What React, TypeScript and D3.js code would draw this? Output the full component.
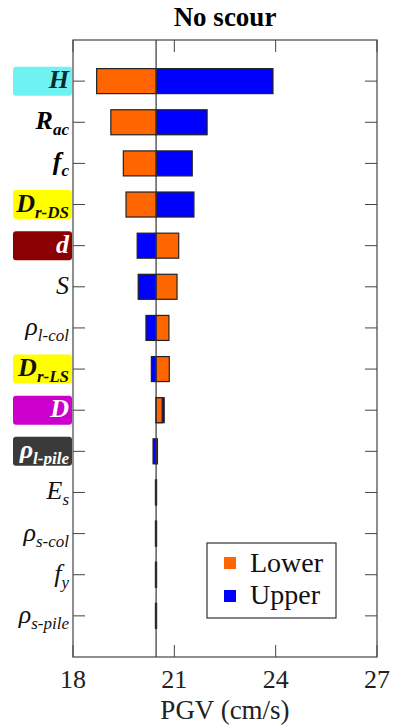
import * as d3 from "d3";

// Tornado chart: PGV sensitivity, "No scour" case
const paramNames = ["H", "R", "f", "D", "d", "S", "ρ", "D", "D", "ρ", "E", "ρ", "f", "ρ"];
const paramSubs = ["", "ac", "c", "r-DS", "", "", "l-col", "r-LS", "", "l-pile", "s", "s-col", "y", "s-pile"];
const paramBold = [true, true, true, true, true, false, false, true, true, true, false, false, false, false];
const badgeFill = ["#6ef2f2", "", "", "#ffff00", "#8b0000", "", "", "#ffff00", "#cc00cc", "#3a3a3a", "", "", "", ""];
const labelFill = ["#0d2a2a", "#000", "#000", "#111", "#fff", "#111", "#111", "#111", "#fff", "#fff", "#111", "#111", "#111", "#111"];

const lowerValues = [18.7, 19.12, 19.49, 19.57, 21.13, 21.08, 20.84, 20.85, 20.64, 20.5, 20.44, 20.44, 20.44, 20.44];
const upperValues = [23.92, 21.97, 21.53, 21.58, 19.9, 19.93, 20.16, 20.32, 20.7, 20.37, 20.47, 20.47, 20.47, 20.47];
const baseValue = 20.46;

const xTicks = [18, 21, 24, 27];
const legendItems = [
  { name: "Lower", color: "#ff6600" },
  { name: "Upper", color: "#0000ff" },
];

const W = 394;
const H = 728;
const margin = { top: 40, right: 17, bottom: 71, left: 73 };
const serif = "Liberation Serif";

export default function App() {
  const x = d3.scaleLinear().domain([18, 27]).range([margin.left, W - margin.right]);
  const rows = d3.range(paramNames.length);
  const y = d3.scalePoint<number>().domain(rows).range([margin.top, H - margin.bottom]).padding(1);
  const barH = 25;
  const x0 = x(baseValue);
  const top = margin.top;
  const bottom = H - margin.bottom;
  const left = margin.left;
  const right = W - margin.right;
  const tickLen = 12;

  const bar = (v: number, i: number, color: string) => (
    <rect
      key={color + i}
      x={Math.min(x(v), x0)}
      y={(y(i) as number) - barH / 2}
      width={Math.max(Math.abs(x(v) - x0), 0.5)}
      height={barH}
      fill={color}
      stroke="#222"
      strokeWidth={1.2}
    />
  );

  return (
    <svg width={W} height={H} style={{ position: "absolute", left: 0, top: 0 }}>
      <style>{`text { font-family: 'Liberation Serif', serif; }`}</style>
      <rect x={0} y={0} width={W} height={H} fill="#fff" />
      {/* title */}
      <text x={(left + right) / 2} y={26} textAnchor="middle" fontSize={27} fontWeight="bold" fontFamily={serif}>No scour</text>

      {/* bars: upper first, lower on top */}
      {rows.map(i => bar(upperValues[i], i, "#0000ff"))}
      {rows.map(i => bar(lowerValues[i], i, "#ff6600"))}

      {/* base line */}
      <line x1={x0} x2={x0} y1={top} y2={bottom} stroke="#333" strokeWidth={1.2} />

      {/* axes box */}
      <rect x={left} y={top} width={right - left} height={bottom - top} fill="none" stroke="#444" strokeWidth={1.2} />
      {xTicks.map(t => (
        <g key={"xt" + t}>
          <line x1={x(t)} x2={x(t)} y1={bottom} y2={bottom - tickLen} stroke="#444" />
          <line x1={x(t)} x2={x(t)} y1={top} y2={top + tickLen} stroke="#444" />
          <text x={x(t)} y={688} textAnchor="middle" fontSize={26} fill="#222" fontFamily={serif}>{t}</text>
        </g>
      ))}
      {rows.map(i => (
        <g key={"yt" + i}>
          <line x1={left} x2={left + tickLen} y1={y(i)} y2={y(i)} stroke="#444" />
          <line x1={right} x2={right - tickLen} y1={y(i)} y2={y(i)} stroke="#444" />
        </g>
      ))}
      <text x={(left + right) / 2} y={719} textAnchor="middle" fontSize={27} fill="#222" fontFamily={serif}>PGV (cm/s)</text>

      {/* parameter labels */}
      {rows.map(i => {
        const cy = y(i) as number;
        return (
          <g key={"lab" + i}>
            {badgeFill[i] && (
              <rect x={13} y={cy - 14.5} width={59} height={29} rx={3} fill={badgeFill[i]} />
            )}
            <text
              x={69}
              y={cy + 7}
              textAnchor="end"
              fontStyle="italic"
              fontWeight={paramBold[i] ? "bold" : "normal"}
              fill={labelFill[i]}
              fontSize={26}
              fontFamily={serif}
            >
              {paramNames[i]}
              {paramSubs[i] ? <tspan fontSize={17} dy={6}>{paramSubs[i]}</tspan> : null}
            </text>
          </g>
        );
      })}

      {/* legend */}
      <rect x={207} y={543} width={129} height={75} fill="#fff" stroke="#333" strokeWidth={1.2} />
      {legendItems.map((it, k) => (
        <g key={it.name}>
          <rect x={224} y={557 + k * 33} width={12} height={12} fill={it.color} />
          <text x={250} y={572 + k * 32} fontSize={28} fill="#111" fontFamily={serif}>{it.name}</text>
        </g>
      ))}
    </svg>
  );
}
